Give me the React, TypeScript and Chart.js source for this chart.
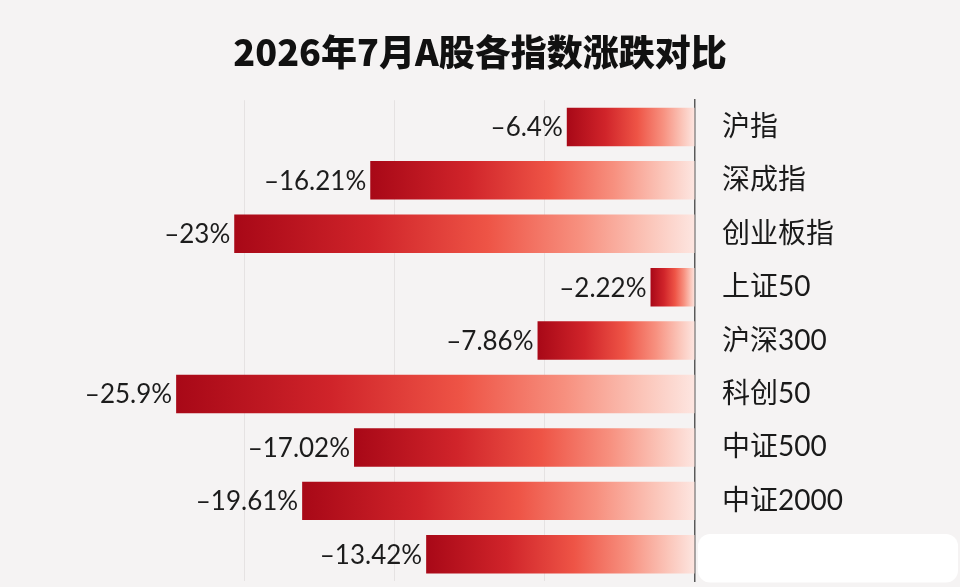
import React, { useEffect, useRef } from "react";
import { Chart, registerables } from "chart.js";

Chart.register(...registerables);

const TITLE = "2026年7月A股各指数涨跌对比";
const categories = ["沪指", "深成指", "创业板指", "上证50", "沪深300", "科创50", "中证500", "中证2000", ""];
const values = [-6.4, -16.21, -23, -2.22, -7.86, -25.9, -17.02, -19.61, -13.42];
const X_MIN = -30;
const X_MAX = 0;
const X_STEP = 7.5;

const formatValue = (v: number) => `–${Math.abs(v)}%`;

const bgPlugin = {
  id: "bgFill",
  beforeDraw(chart: any) {
    const { ctx, width, height } = chart;
    ctx.save();
    ctx.fillStyle = "#f5f3f3";
    ctx.fillRect(0, 0, width, height);
    ctx.restore();
  },
};

const valueLabelPlugin = {
  id: "valueLabels",
  afterDatasetsDraw(chart: any) {
    const { ctx } = chart;
    const meta = chart.getDatasetMeta(0);
    ctx.save();
    ctx.font = "26px Lato";
    ctx.fillStyle = "#1c1c1c";
    ctx.textAlign = "right";
    ctx.textBaseline = "middle";
    meta.data.forEach((el: any, i: number) => {
      ctx.fillText(formatValue(values[i]), el.x - 4, el.y + 1);
    });
    ctx.restore();
  },
};

const coverPlugin = {
  id: "coverBox",
  afterDraw(chart: any) {
    const { ctx, chartArea } = chart;
    const meta = chart.getDatasetMeta(0);
    const last = meta.data[meta.data.length - 1];
    if (!last) return;
    const h = last.height;
    const x = chartArea.right + 3;
    const y = last.y - h / 2 - 1;
    const w = chart.width - x - 2;
    const hh = h + 10;
    ctx.save();
    ctx.fillStyle = "#ffffff";
    ctx.beginPath();
    ctx.roundRect(x, y, w, hh, 12);
    ctx.fill();
    ctx.restore();
  },
};

const zeroPad = (axis: any) => {
  axis.paddingTop = 0;
  axis.paddingBottom = 0;
  axis.paddingLeft = 0;
  axis.paddingRight = 0;
};

export default function App() {
  const ref = useRef<HTMLCanvasElement | null>(null);

  useEffect(() => {
    if (!ref.current) return;
    const chart = new Chart(ref.current, {
      type: "bar",
      data: {
        labels: categories,
        datasets: [
          {
            data: values,
            borderWidth: 0,
            categoryPercentage: 1,
            barPercentage: 0.72,
            backgroundColor: (c: any) => {
              const ch = c.chart;
              const xs = ch.scales?.x;
              if (!xs || !ch.chartArea || typeof c.raw !== "number") return "#e0403a";
              const xl = xs.getPixelForValue(c.raw);
              const xr = xs.getPixelForValue(0);
              const g = ch.ctx.createLinearGradient(xl, 0, xr, 0);
              g.addColorStop(0, "#a80817");
              g.addColorStop(0.3, "#d0242a");
              g.addColorStop(0.55, "#ee5446");
              g.addColorStop(0.75, "#f7907f");
              g.addColorStop(0.9, "#fbc5b9");
              g.addColorStop(1, "#fde6e1");
              return g;
            },
          },
        ],
      },
      options: {
        indexAxis: "y",
        responsive: false,
        animation: false,
        devicePixelRatio: 1,
        layout: { padding: { left: 0, right: 0, top: 0, bottom: 6 } },
        plugins: {
          legend: { display: false },
          tooltip: { enabled: false },
          title: {
            display: true,
            text: TITLE,
            color: "#111111",
            font: { family: "'Noto Sans CJK SC'", size: 36, weight: 900 },
            padding: { top: 31, bottom: 26 },
          },
        },
        scales: {
          x: {
            min: X_MIN,
            max: X_MAX,
            ticks: { display: false, stepSize: X_STEP },
            grid: {
              drawTicks: false,
              lineWidth: 1,
              color: (c: any) =>
                c.tick && (c.tick.value === X_MIN || c.tick.value === X_MAX) ? "rgba(0,0,0,0)" : "#e5e2e2",
            },
            border: { display: false },
            afterFit: (axis: any) => {
              axis.height = 0;
              zeroPad(axis);
            },
          },
          y: {
            position: "right",
            grid: { display: false, drawTicks: false },
            border: { display: true, color: "#5a5a5a", width: 1.5 },
            ticks: {
              color: "#1a1a1a",
              padding: 27,
              font: { family: "Lato, 'Noto Sans CJK SC'", size: 28 },
            },
            afterFit: (axis: any) => {
              axis.width = 265;
              zeroPad(axis);
            },
          },
          yLeft: {
            type: "category",
            axis: "y",
            position: "left",
            ticks: { display: false },
            grid: { display: false, drawTicks: false },
            border: { display: false },
            afterFit: (axis: any) => {
              axis.width = 94;
              zeroPad(axis);
            },
          },
        },
      },
      plugins: [bgPlugin, valueLabelPlugin, coverPlugin],
    });
    return () => chart.destroy();
  }, []);

  return (
    <div style={{ position: "absolute", left: 0, top: 0, width: 960, height: 587, background: "#f5f3f3" }}>
      <canvas ref={ref} width={960} height={587} />
    </div>
  );
}
